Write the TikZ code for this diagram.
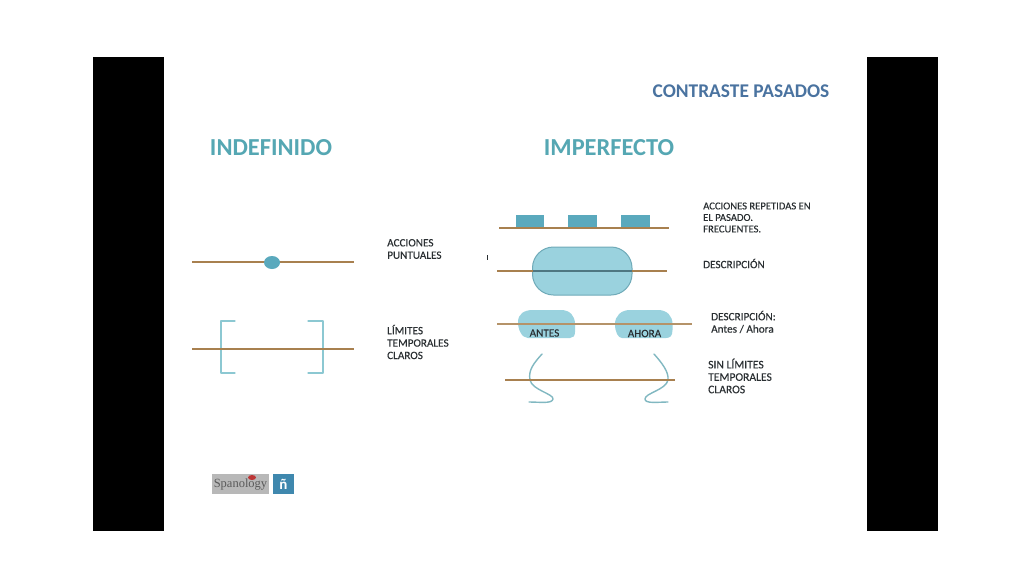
\documentclass[tikz,border=0pt]{standalone}
\usepackage{fontspec}
\setmainfont{Carlito}
\newfontfamily\logofont{Liberation Serif}
\definecolor{tealT}{HTML}{55A7B3}
\definecolor{blueT}{HTML}{4A73A0}
\definecolor{lineC}{HTML}{A8804F}
\definecolor{boxC}{HTML}{5AA9BD}
\definecolor{capC}{HTML}{9AD2DE}
\definecolor{capE}{HTML}{6FAAB8}
\definecolor{brC}{HTML}{8CC8D2}
\definecolor{labC}{HTML}{2A2F32}
\newcommand{\labfont}[1]{\addfontfeature{FakeBold=0.25}\fontsize{#1}{12.4}\selectfont}
\tikzset{
  tl/.style={line width=1.6pt,draw=lineC},
  sq/.style={fill=boxC,draw=none},
  br/.style={line width=1.1pt,draw=brC,line join=round,line cap=round},
  sq2/.style={line width=1.4pt,draw=brC!92!black,line join=round,line cap=round},
  lab/.style={anchor=west,align=left,text=labC,inner sep=0pt,font=\labfont{11.2}},
  head/.style={anchor=center,inner sep=0pt,text=tealT,font=\fontsize{24.4}{26}\selectfont\bfseries},
}
\begin{document}
\begin{tikzpicture}[x=1pt,y=-1pt]
\useasboundingbox (0,0) rectangle (1024,576);
\fill[white] (0,0) rectangle (1024,576);
\fill[black] (93,57) rectangle (164,531);
\fill[black] (867,57) rectangle (938,531);

\node[anchor=center,inner sep=0pt,text=blueT,font=\fontsize{19.4}{21}\selectfont\bfseries] (title) at (741,91.3) {CONTRASTE PASADOS};
\node[head] (indef) at (271,148) {INDEFINIDO};
\node[head] (imperf) at (609,148) {IMPERFECTO};

% left: punctual
\coordinate (a1) at (192,262.1); \coordinate (a2) at (354,262.1);
\draw[tl,line width=1.9pt] (a1) -- (a2);
\fill[boxC] (272,262.5) ellipse [x radius=8,y radius=6.5];
\node[lab] (l1) at (387,249) {ACCIONES\\PUNTUALES};

% left: brackets
\coordinate (b1) at (192,349.1); \coordinate (b2) at (354,349.1);
\draw[br] (235,321) -- (221,321) -- (221,373) -- (235,373);
\draw[br] (308,321) -- (323,321) -- (323,373) -- (308,373);
\draw[tl,line width=1.9pt] (b1) -- (b2);
\node[lab] (l2) at (387,342) {LÍMITES\\TEMPORALES\\CLAROS};

% right: repeated
\fill[boxC] (516,215) rectangle (544,228);
\fill[boxC] (568,214.5) rectangle (597,228);
\fill[boxC] (621,214.5) rectangle (650,228);
\coordinate (c1) at (499,228); \coordinate (c2) at (669,228);
\draw[tl] (c1) -- (c2);
\node[lab,font=\addfontfeature{FakeBold=0.25}\fontsize{10.6}{11.5}\selectfont] (l3) at (703,217.5) {ACCIONES REPETIDAS EN\\EL PASADO.\\FRECUENTES.};

% right: description
\draw[fill=capC,draw=capE,line width=1pt,rounded corners=21pt] (532.5,247) rectangle (632,295);
\coordinate (d1) at (497,271); \coordinate (d2) at (667,271);
\draw[tl] (d1) -- (d2);
\draw[draw=black!30!capE,line width=1.2pt] (533,271) -- (632,271);
\fill[labC] (486.6,255) rectangle (487.8,260);
\node[lab] (l4) at (703,263.5) {DESCRIPCIÓN};

% right: antes / ahora
\fill[capC] (533,310) -- (561,310) .. controls (570,310) and (575,316) .. (575,324) -- (575,332) .. controls (575,336) and (573,338) .. (570,338) -- (528,338) .. controls (522,338) and (518,330) .. (518,322) .. controls (518,314) and (524,310) .. (533,310) -- cycle;
\fill[capC] (630,310) -- (658,310) .. controls (667,310) and (672.5,316) .. (672.5,324) -- (672.5,330) .. controls (672.5,336) and (670,338) .. (666,338) -- (622,338) .. controls (618,338) and (615,332) .. (615,324) .. controls (615,316) and (621,310) .. (630,310) -- cycle;
\coordinate (e1) at (497,324); \coordinate (e2) at (692,324);
\draw[tl,line width=1.2pt,draw=lineC!85!white] (e1) -- (e2);
\node[anchor=center,inner sep=0pt,text=labC,font=\labfont{11.2}] (antes) at (544.5,333) {ANTES};
\node[anchor=center,inner sep=0pt,text=labC,font=\labfont{11.2}] (ahora) at (644.5,333.5) {AHORA};
\node[lab] (l5) at (711,322) {DESCRIPCIÓN:\\Antes / Ahora};

% right: no limits
\coordinate (f1) at (505,380); \coordinate (f2) at (675,380);
\draw[sq2] (542,354) .. controls (534,363) and (528,370) .. (530,380) .. controls (532,390) and (554,394) .. (553,399) .. controls (552,404) and (540,402) .. (529,402);
\draw[sq2] (654,354) .. controls (662,363) and (669,372) .. (668,380) .. controls (666,390) and (645,393) .. (645,399) .. controls (645,404) and (658,402) .. (668,402);
\draw[tl] (f1) -- (f2);
\node[lab,font=\labfont{11.6}] (l6) at (708,376) {SIN LÍMITES\\TEMPORALES\\CLAROS};

% logo
\fill[black!28] (212,474) rectangle (269,493.5);
\fill[red!75!black,opacity=.7] (252,477.5) ellipse [x radius=4,y radius=2.5];
\node[anchor=center,inner sep=0pt,text=black!65,font=\fontsize{12.5}{14}\selectfont\logofont] (logo) at (240.5,484.5) {Spanology};
\node[fill=blueT!85!cyan,text=white,minimum width=21pt,minimum height=20pt,inner sep=0pt,anchor=center,font=\fontsize{15}{16}\selectfont\bfseries] (enye) at (283.5,484) {ñ};
\end{tikzpicture}
\end{document}
